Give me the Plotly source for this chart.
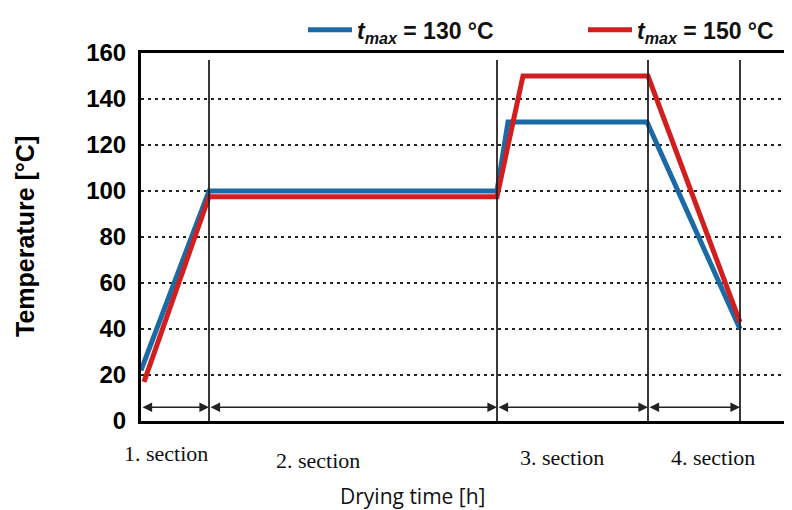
import plotly.graph_objects as go

# ---- data (x in arbitrary time units, y in °C) ----
blue_x = [0.0, 6.8, 35.6, 36.7, 50.6, 59.9]
blue_y = [22, 100, 100, 130, 130, 40]
red_x = [0.3, 6.8, 35.6, 38.2, 50.7, 59.9]
red_y = [17, 97.5, 97.5, 150, 150, 43]

boundaries = [0.0, 6.8, 35.6, 50.7, 59.9]
section_labels = ["1. section", "2. section", "3. section", "4. section"]
section_label_x = [2.5, 17.7, 42.1, 57.2]
section_label_py = [-0.088, -0.106, -0.098, -0.098]

y_ticks = [0, 20, 40, 60, 80, 100, 120, 140, 160]

BLUE = "#1a6aa6"
RED = "#d11f1f"

# page body has an 8px margin: figure is offset by 8px
L, T, W, H = 133, 43, 784, 502
PW = W - L

fig = go.Figure()
fig.add_trace(go.Scatter(x=blue_x, y=blue_y, mode="lines",
                         line=dict(color=BLUE, width=5), legend="legend",
                         name="<b><i>t</i><sub><i>max</i></sub> = 130 °C</b>"))
fig.add_trace(go.Scatter(x=red_x, y=red_y, mode="lines",
                         line=dict(color=RED, width=5), legend="legend2",
                         name="<b><i>t</i><sub><i>max</i></sub> = 150 °C</b>"))

shapes = []
for b in boundaries[1:]:
    shapes.append(dict(type="line", xref="x", yref="y", x0=b, x1=b, y0=0, y1=157,
                       line=dict(color="#222", width=1.8), layer="above"))
annotations = []
arrow_y = 6
for i in range(len(boundaries) - 1):
    annotations.append(dict(x=boundaries[i + 1], y=arrow_y, ax=boundaries[i], ay=arrow_y,
                            xref="x", yref="y", axref="x", ayref="y", text="",
                            showarrow=True, arrowhead=2, startarrowhead=2,
                            arrowside="end+start", arrowwidth=1.6, arrowsize=1.2,
                            startarrowsize=1.2, arrowcolor="#222"))
for lab, lx, ly in zip(section_labels, section_label_x, section_label_py):
    annotations.append(dict(x=lx, y=ly, xref="x", yref="paper", text=lab, showarrow=False,
                            xanchor="center", yanchor="middle",
                            font=dict(family="Liberation Serif", size=22, color="#111")))
annotations.append(dict(x=27.1, y=-0.205, xref="x", yref="paper", text="Drying time [h]",
                        showarrow=False, xanchor="center", yanchor="middle",
                        font=dict(family="Open Sans", size=21, color="#111")))
annotations.append(dict(x=-(L - 17) / PW, y=0.5, xref="paper", yref="paper",
                        text="<b>Temperature [°C]</b>", textangle=-90, showarrow=False,
                        xanchor="center", yanchor="middle",
                        font=dict(family="Liberation Sans", size=25, color="black")))

leg_common = dict(orientation="h", yanchor="middle", y=1.063, xanchor="left",
                  font=dict(family="Liberation Sans", size=23, color="#111"),
                  itemwidth=44, bgcolor="rgba(0,0,0,0)")

fig.update_layout(
    width=W, height=H,
    margin=dict(l=L, r=0, t=T, b=H - T - 370),
    paper_bgcolor="white", plot_bgcolor="white",
    showlegend=True,
    legend=dict(x=(295 - L) / PW, **leg_common),
    legend2=dict(x=(575 - L) / PW, **leg_common),
    xaxis=dict(range=[0, 65.1], showticklabels=False, ticks="", showgrid=False,
               zeroline=False, showline=True, linecolor="black", linewidth=3,
               mirror=True),
    yaxis=dict(range=[0, 160], tickvals=y_ticks, ticks="", showgrid=True,
               gridcolor="#222", gridwidth=2.2, griddash="3px,4px",
               zeroline=False, showline=True, linecolor="black", linewidth=3,
               automargin=False, ticklabelstandoff=7,
               tickfont=dict(family="Liberation Sans", size=24, color="black",
                             weight="bold")),
    shapes=shapes,
    annotations=annotations,
)

fig.write_html("out.html")
